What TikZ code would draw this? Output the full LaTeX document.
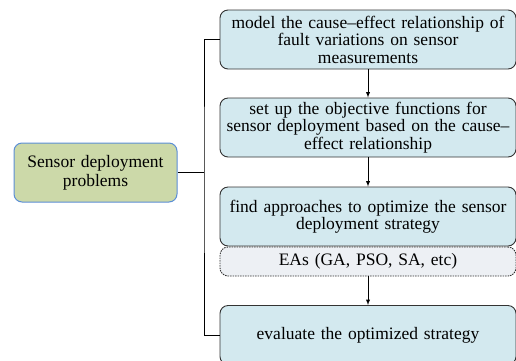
\documentclass[tikz,border=0pt]{standalone}
\usepackage{fontspec}
\setmainfont{Liberation Serif}
\definecolor{boxblue}{HTML}{D3E9EF}
\definecolor{boxgreen}{HTML}{CCD9A9}
\definecolor{edgeblue}{HTML}{5B8ED6}
\definecolor{boxgrey}{HTML}{EDF0F4}
\begin{document}
\begin{tikzpicture}[x=1pt, y=-1pt]
\tikzset{etape/.style={draw=black!80, fill=boxblue, rounded corners=8pt, line width=0.9pt,
    minimum width=290pt, minimum height=59pt, text width=296pt, align=center, inner sep=0pt,
    font=\fontsize{17.5}{17.5}\selectfont},
  probleme/.style={draw=edgeblue, fill=boxgreen, rounded corners=8pt, line width=1pt,
    minimum width=163pt, minimum height=59pt, text width=160pt, align=center, inner sep=0pt,
    font=\fontsize{17.5}{19}\selectfont},
  methode/.style={etape, fill=boxgrey, minimum height=29pt, dash pattern=on 1.5pt off 1pt}}
\clip (0, 0) rectangle (516, 360);
\node[probleme] (S) at (95.5, 172.5) {Sensor deployment\\problems};
\node[etape] (B1) at (368, 39.5) {model the cause--effect relationship of\\fault variations on sensor\\measurements};
\node[etape] (B2) at (368, 127.5) {set up the objective functions for\\sensor deployment based on the cause--\\effect relationship};
\node[etape] (B3) at (368, 216.5) {find approaches to optimize the sensor\\deployment strategy};
\node[methode] (EA) at (368, 261.5) {EAs (GA, PSO, SA, etc)};
\node[etape] (B4) at (368, 335) {evaluate the optimized strategy};
\coordinate (T) at (204, 172.5);
\draw[line width=0.9pt] (S.east) -- (T);
\draw[line width=0.9pt] (B1.west) -| (T) |- (B4.west);
\draw[-latex, line width=0.9pt] (B1) -- (B2);
\draw[-latex, line width=0.9pt] (B2) -- (B3);
\draw[-latex, line width=0.9pt] (EA) -- (B4);
\end{tikzpicture}
\end{document}
